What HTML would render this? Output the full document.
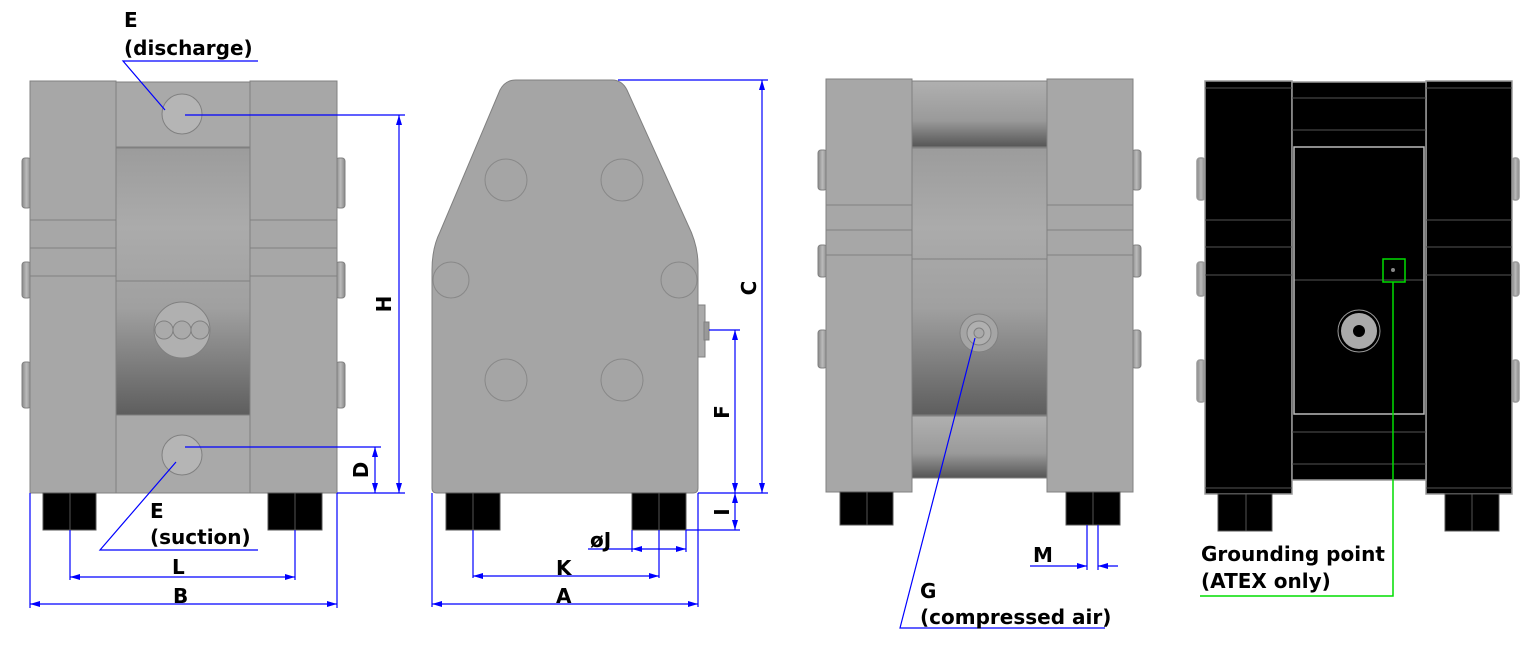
<!DOCTYPE html>
<html><head><meta charset="utf-8"><style>
html,body{margin:0;padding:0;background:#fff;width:1536px;height:648px;overflow:hidden}
text{font-family:"DejaVu Sans","Liberation Sans",sans-serif;font-weight:bold;font-size:20px;fill:#000}
</style></head><body>
<svg width="1536" height="648" viewBox="0 0 1536 648" xmlns="http://www.w3.org/2000/svg">
<defs>
<linearGradient id="cyl" x1="0" y1="0" x2="0" y2="1">
<stop offset="0" stop-color="#9c9c9c"/><stop offset="0.3" stop-color="#ababab"/><stop offset="0.6" stop-color="#a0a0a0"/><stop offset="1" stop-color="#5e5e5e"/></linearGradient>
<linearGradient id="cyl2" x1="0" y1="0" x2="0" y2="1">
<stop offset="0" stop-color="#b0b0b0"/><stop offset="0.6" stop-color="#9a9a9a"/><stop offset="1" stop-color="#555"/></linearGradient>
<linearGradient id="knob" x1="0" y1="0" x2="1" y2="0"><stop offset="0" stop-color="#888"/><stop offset="0.5" stop-color="#bbb"/><stop offset="1" stop-color="#888"/></linearGradient>
<marker id="ar" markerWidth="10" markerHeight="6" refX="10" refY="3" orient="auto-start-reverse" markerUnits="userSpaceOnUse"><path d="M0,0 L10,3 L0,6z" fill="#0000ff"/></marker>
</defs>

<!-- VIEW 1 -->
<g stroke="#808080" stroke-width="1">
<rect x="22" y="158" width="9" height="50" rx="3" fill="url(#knob)"/>
<rect x="22" y="262" width="9" height="36" rx="3" fill="url(#knob)"/>
<rect x="22" y="362" width="9" height="46" rx="3" fill="url(#knob)"/>
<rect x="336" y="158" width="9" height="50" rx="3" fill="url(#knob)"/>
<rect x="336" y="262" width="9" height="36" rx="3" fill="url(#knob)"/>
<rect x="336" y="362" width="9" height="46" rx="3" fill="url(#knob)"/>
<rect x="30" y="81" width="86" height="412" fill="#a7a7a7"/>
<rect x="250" y="81" width="87" height="412" fill="#a7a7a7"/>
<line x1="30" y1="220" x2="116" y2="220"/><line x1="30" y1="248" x2="116" y2="248"/><line x1="30" y1="276" x2="116" y2="276"/>
<line x1="250" y1="220" x2="337" y2="220"/><line x1="250" y1="248" x2="337" y2="248"/><line x1="250" y1="276" x2="337" y2="276"/>
<rect x="116" y="82" width="134" height="65" fill="#a9a9a9"/>
<rect x="116" y="148" width="134" height="267" fill="url(#cyl)"/>
<line x1="116" y1="281" x2="250" y2="281"/>
<rect x="116" y="415" width="134" height="78" fill="#a9a9a9"/>
<circle cx="182" cy="114" r="20" fill="#b5b5b5"/>
<circle cx="182" cy="455" r="20" fill="#b5b5b5"/>
<circle cx="182" cy="330" r="28" fill="#b0b0b0"/>
<circle cx="164" cy="330" r="9" fill="#aaa"/><circle cx="182" cy="330" r="9" fill="#aaa"/><circle cx="200" cy="330" r="9" fill="#aaa"/>
</g>
<g fill="#000" stroke="#555" stroke-width="1">
<rect x="43" y="493" width="27" height="37"/><rect x="70" y="493" width="26" height="37"/>
<rect x="268" y="493" width="27" height="37"/><rect x="295" y="493" width="27" height="37"/>
</g>

<!-- VIEW 2 -->
<g stroke="#808080" stroke-width="1">
<rect x="697" y="305" width="8" height="52" fill="#aaa"/>
<rect x="704" y="322" width="5" height="18" fill="#999"/>
<path d="M432,270 Q432,248 440,232 L500,90 Q505,80 516,80 L612,80 Q622,80 627,90 L688,225 Q698,245 698,265 L698,488 Q698,493 693,493 L437,493 Q432,493 432,488 Z" fill="#a5a5a5"/>
<g fill="none" stroke="#888"><circle cx="506" cy="180" r="21"/><circle cx="622" cy="180" r="21"/>
<circle cx="451" cy="280" r="18"/><circle cx="679" cy="280" r="18"/>
<circle cx="506" cy="380" r="21"/><circle cx="622" cy="380" r="21"/></g>
</g>
<g fill="#000" stroke="#555" stroke-width="1">
<rect x="446" y="493" width="27" height="37"/><rect x="473" y="493" width="27" height="37"/>
<rect x="632" y="493" width="27" height="37"/><rect x="659" y="493" width="27" height="37"/>
</g>

<!-- VIEW 3 -->
<g stroke="#808080" stroke-width="1">
<rect x="818" y="150" width="9" height="40" rx="3" fill="url(#knob)"/>
<rect x="818" y="245" width="9" height="32" rx="3" fill="url(#knob)"/>
<rect x="818" y="330" width="9" height="38" rx="3" fill="url(#knob)"/>
<rect x="1132" y="150" width="9" height="40" rx="3" fill="url(#knob)"/>
<rect x="1132" y="245" width="9" height="32" rx="3" fill="url(#knob)"/>
<rect x="1132" y="330" width="9" height="38" rx="3" fill="url(#knob)"/>
<rect x="826" y="79" width="86" height="413" fill="#a7a7a7"/>
<rect x="1047" y="79" width="86" height="413" fill="#a7a7a7"/>
<line x1="826" y1="205" x2="912" y2="205"/><line x1="826" y1="230" x2="912" y2="230"/><line x1="826" y1="255" x2="912" y2="255"/>
<line x1="1047" y1="205" x2="1133" y2="205"/><line x1="1047" y1="230" x2="1133" y2="230"/><line x1="1047" y1="255" x2="1133" y2="255"/>
<rect x="912" y="81" width="135" height="66" fill="url(#cyl2)"/>
<rect x="912" y="148" width="135" height="267" fill="url(#cyl)"/>
<line x1="912" y1="259" x2="1047" y2="259"/>
<rect x="912" y="416" width="135" height="62" fill="url(#cyl2)"/>
<circle cx="979" cy="333" r="19" fill="#a5a5a5"/><circle cx="979" cy="333" r="12" fill="#b0b0b0"/><circle cx="979" cy="333" r="5" fill="#aaa"/>
</g>
<g fill="#000" stroke="#555" stroke-width="1">
<rect x="840" y="492" width="27" height="33"/><rect x="867" y="492" width="26" height="33"/>
<rect x="1066" y="492" width="27" height="33"/><rect x="1093" y="492" width="27" height="33"/>
</g>

<!-- VIEW 4 -->
<g stroke="#9a9a9a" stroke-width="1.5">
<rect x="1197" y="158" width="8" height="42" rx="3" fill="url(#knob)"/>
<rect x="1197" y="262" width="8" height="34" rx="3" fill="url(#knob)"/>
<rect x="1197" y="360" width="8" height="42" rx="3" fill="url(#knob)"/>
<rect x="1512" y="158" width="7" height="42" rx="3" fill="url(#knob)"/>
<rect x="1512" y="262" width="7" height="34" rx="3" fill="url(#knob)"/>
<rect x="1512" y="360" width="7" height="42" rx="3" fill="url(#knob)"/>
<rect x="1205" y="81" width="87" height="413" fill="#000"/>
<rect x="1426" y="81" width="86" height="413" fill="#000"/>
<rect x="1292" y="82" width="134" height="398" fill="#000"/>
</g>
<g stroke="#555" stroke-width="1">
<line x1="1205" y1="88" x2="1292" y2="88"/><line x1="1426" y1="88" x2="1512" y2="88"/>
<line x1="1205" y1="220" x2="1292" y2="220"/><line x1="1205" y1="247" x2="1292" y2="247"/><line x1="1205" y1="275" x2="1292" y2="275"/>
<line x1="1426" y1="220" x2="1512" y2="220"/><line x1="1426" y1="247" x2="1512" y2="247"/><line x1="1426" y1="275" x2="1512" y2="275"/>
<line x1="1292" y1="98" x2="1426" y2="98"/><line x1="1292" y1="130" x2="1426" y2="130"/>
<line x1="1294" y1="280" x2="1424" y2="280"/>
<line x1="1292" y1="432" x2="1426" y2="432"/><line x1="1292" y1="464" x2="1426" y2="464"/>
<line x1="1205" y1="488" x2="1292" y2="488"/><line x1="1426" y1="488" x2="1512" y2="488"/>
</g>
<rect x="1294" y="147" width="130" height="267" fill="none" stroke="#bbb" stroke-width="1.5"/>
<circle cx="1359" cy="331" r="21" fill="none" stroke="#999"/>
<circle cx="1359" cy="331" r="18" fill="#aaa"/><circle cx="1359" cy="331" r="6" fill="#000"/>
<circle cx="1393" cy="270" r="2" fill="#888"/>
<g fill="#000" stroke="#555" stroke-width="1">
<rect x="1218" y="494" width="28" height="37"/><rect x="1246" y="494" width="26" height="37"/>
<rect x="1445" y="494" width="27" height="37"/><rect x="1472" y="494" width="27" height="37"/>
</g>
<rect x="1383" y="259" width="22" height="23" fill="none" stroke="#00dd00" stroke-width="1.5"/>
<polyline points="1393,282 1393,596 1200,596" fill="none" stroke="#00dd00" stroke-width="1.5"/>

<!-- DIMENSIONS -->
<g stroke="#0000ff" stroke-width="1.2" fill="none">
<polyline points="258,61 123,61 165,110"/>
<line x1="185" y1="115" x2="405" y2="115"/>
<line x1="337" y1="493" x2="405" y2="493"/>
<line x1="399" y1="115" x2="399" y2="493" marker-start="url(#ar)" marker-end="url(#ar)"/>
<line x1="185" y1="447" x2="381" y2="447"/>
<line x1="375" y1="447" x2="375" y2="493" marker-start="url(#ar)" marker-end="url(#ar)"/>
<polyline points="176,462 100,550 258,550"/>
<line x1="70" y1="530" x2="70" y2="580"/><line x1="295" y1="530" x2="295" y2="580"/>
<line x1="70" y1="577" x2="295" y2="577" marker-start="url(#ar)" marker-end="url(#ar)"/>
<line x1="30" y1="493" x2="30" y2="608"/><line x1="337" y1="493" x2="337" y2="608"/>
<line x1="30" y1="604" x2="337" y2="604" marker-start="url(#ar)" marker-end="url(#ar)"/>
<line x1="618" y1="80" x2="768" y2="80"/>
<line x1="698" y1="493" x2="768" y2="493"/>
<line x1="762" y1="80" x2="762" y2="493" marker-start="url(#ar)" marker-end="url(#ar)"/>
<line x1="709" y1="330" x2="740" y2="330"/>
<line x1="735" y1="330" x2="735" y2="493" marker-start="url(#ar)" marker-end="url(#ar)"/>
<line x1="686" y1="530" x2="740" y2="530"/>
<line x1="735" y1="493" x2="735" y2="530" marker-start="url(#ar)" marker-end="url(#ar)"/>
<line x1="632" y1="530" x2="632" y2="552"/><line x1="686" y1="530" x2="686" y2="552"/>
<line x1="588" y1="549" x2="632" y2="549"/>
<line x1="632" y1="549" x2="686" y2="549" marker-start="url(#ar)" marker-end="url(#ar)"/>
<line x1="473" y1="530" x2="473" y2="578"/><line x1="659" y1="530" x2="659" y2="578"/>
<line x1="473" y1="576" x2="659" y2="576" marker-start="url(#ar)" marker-end="url(#ar)"/>
<line x1="432" y1="493" x2="432" y2="607"/><line x1="698" y1="493" x2="698" y2="607"/>
<line x1="432" y1="604" x2="698" y2="604" marker-start="url(#ar)" marker-end="url(#ar)"/>
<polyline points="975,338 900,628 1105,628"/>
<line x1="1087" y1="525" x2="1087" y2="570"/><line x1="1098" y1="525" x2="1098" y2="570"/>
<line x1="1030" y1="566" x2="1087" y2="566" marker-end="url(#ar)"/>
<line x1="1118" y1="566" x2="1098" y2="566" marker-end="url(#ar)"/>
</g>

<!-- LABELS -->
<text x="124" y="27">E</text>
<text x="124" y="55">(discharge)</text>
<text x="150" y="518">E</text>
<text x="150" y="544">(suction)</text>
<text x="172" y="574">L</text>
<text x="173" y="603">B</text>
<text x="590" y="547">øJ</text>
<text x="556" y="575">K</text>
<text x="556" y="603">A</text>
<text transform="translate(391,304) rotate(-90)" text-anchor="middle">H</text>
<text transform="translate(368,470) rotate(-90)" text-anchor="middle">D</text>
<text transform="translate(756,288) rotate(-90)" text-anchor="middle">C</text>
<text transform="translate(729,412) rotate(-90)" text-anchor="middle">F</text>
<text transform="translate(729,512) rotate(-90)" text-anchor="middle">I</text>
<text x="1033" y="562">M</text>
<text x="920" y="598">G</text>
<text x="920" y="624">(compressed air)</text>
<text x="1201" y="561">Grounding point</text>
<text x="1201" y="588">(ATEX only)</text>
</svg>
</body></html>
